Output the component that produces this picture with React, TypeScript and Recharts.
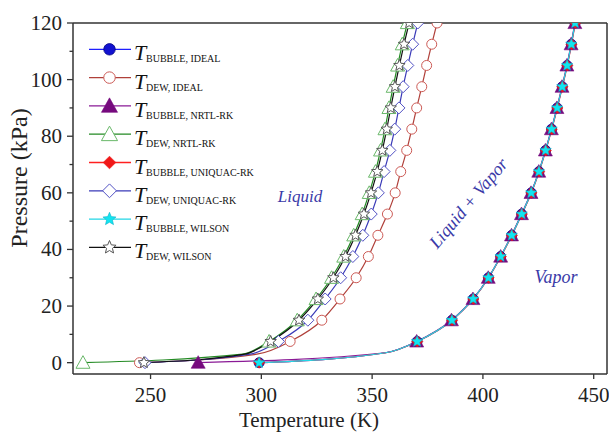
import { LineChart, Line, XAxis, YAxis, ReferenceLine } from "recharts";

// pressure levels (kPa) of the calculated points; index 1 is the knee of the curve (no marker)
const bubblePressure = [0, 3.5, 7.5, 15, 22.5, 30, 37.5, 45, 52.5, 60, 67.5, 75, 82.5, 90, 97.5, 105, 112.5, 120];
const dewPressure = [0, 3, 7.5, 15, 22.5, 30, 37.5, 45, 52.5, 60, 67.5, 75, 82.5, 90, 97.5, 105, 112.5, 120];

// temperatures (K)
const bubbleIdeal = [299, 356, 370.3, 386, 395.6, 402.5, 408, 413, 417.5, 421.8, 425.3, 428.3, 431, 433.5, 435.8, 438, 439.9, 441.6];
const bubbleNrtl = [271.5, 356, 370.1, 385.8, 395.5, 402.4, 408, 412.9, 417.4, 421.7, 425.2, 428.2, 430.9, 433.4, 435.7, 437.9, 439.8, 441.5];
const bubbleUniquac = [299, 356.2, 370.4, 386.1, 395.7, 402.6, 408.1, 413.1, 417.6, 421.9, 425.4, 428.4, 431.1, 433.6, 435.9, 438.1, 440, 441.7];
const bubbleWilson = [299, 356.1, 370.3, 386, 395.6, 402.5, 408, 413, 417.5, 421.8, 425.3, 428.3, 431, 433.5, 435.8, 438, 439.9, 441.6];
const dewIdeal = [245, 298, 313, 327.3, 335.5, 342.8, 348.3, 352.6, 356.9, 360.4, 362.9, 365.6, 367.9, 370.1, 372.4, 374.6, 376.9, 379.3];
const dewNrtl = [219.5, 291.5, 303.5, 316.2, 324.7, 331.7, 337.2, 341.7, 345.5, 348.7, 351.5, 353.8, 355.8, 357.6, 359.5, 361.5, 363.6, 365.9];
const dewUniquac = [247.5, 295, 307.7, 321, 328.8, 335.8, 341.3, 345.8, 349.6, 352.8, 355.4, 358, 360.2, 362.1, 364, 366.1, 368.3, 370.6];
const dewWilson = [247, 292.5, 304.2, 317, 325.5, 332.5, 338, 342.5, 346.3, 349.5, 352.3, 354.6, 356.6, 358.4, 360.3, 362.3, 364.4, 366.7];

const legendLabels = [
  "BUBBLE, IDEAL",
  "DEW, IDEAL",
  "BUBBLE, NRTL-RK",
  "DEW, NRTL-RK",
  "BUBBLE, UNIQUAC-RK",
  "DEW, UNIQUAC-RK",
  "BUBBLE, WILSON",
  "DEW, WILSON",
];

const xTicks = [250, 300, 350, 400, 450];
const yTicks = [0, 10, 20, 30, 40, 50, 60, 70, 80, 90, 100, 110, 120];

const FONT = "'Liberation Serif', 'Times New Roman', serif";
const AXIS = "#333";
const NOTE = "#3a3aa8";

type Kind = "circleFill" | "circleOpen" | "triFill" | "triOpen" | "diamondFill" | "diamondOpen" | "starFill" | "starOpen";

const toPoints = (temps: number[], pressure: number[]) =>
  temps.map((t, i) => ({ t, p: pressure[i] }));

// legend order
const series = [
  { key: "bi", temps: bubbleIdeal, pressure: bubblePressure, line: "#1f1fff", mark: "#1212d0", kind: "circleFill" as Kind },
  { key: "di", temps: dewIdeal, pressure: dewPressure, line: "#b0403a", mark: "#cc5a55", kind: "circleOpen" as Kind },
  { key: "bn", temps: bubbleNrtl, pressure: bubblePressure, line: "#8a1a96", mark: "#760a7e", kind: "triFill" as Kind },
  { key: "dn", temps: dewNrtl, pressure: dewPressure, line: "#238a23", mark: "#6ab86a", kind: "triOpen" as Kind },
  { key: "bu", temps: bubbleUniquac, pressure: bubblePressure, line: "#ff2020", mark: "#f01818", kind: "diamondFill" as Kind },
  { key: "du", temps: dewUniquac, pressure: dewPressure, line: "#3a3ab8", mark: "#5252c4", kind: "diamondOpen" as Kind },
  { key: "bw", temps: bubbleWilson, pressure: bubblePressure, line: "#22d6e6", mark: "#12e4f0", kind: "starFill" as Kind },
  { key: "dw", temps: dewWilson, pressure: dewPressure, line: "#111", mark: "#555", kind: "starOpen" as Kind },
];
const drawOrder = [1, 5, 3, 7, 0, 2, 4, 6];

const starPath = (cx: number, cy: number, R: number) => {
  let d = "";
  for (let i = 0; i < 10; i++) {
    const r = i % 2 ? R * 0.45 : R;
    const a = -Math.PI / 2 + (i * Math.PI) / 5;
    d += (i ? "L" : "M") + (cx + r * Math.cos(a)).toFixed(2) + "," + (cy + r * Math.sin(a)).toFixed(2);
  }
  return d + "Z";
};

const Marker = ({ kind, cx, cy, color, k = 1 }: { kind: Kind; cx: number; cy: number; color: string; k?: number }) => {
  const tri = (s: number) => `M${cx},${cy - s}L${cx + s},${cy + s * 0.8}L${cx - s},${cy + s * 0.8}Z`;
  const dia = (s: number) => `M${cx},${cy - s}L${cx + s},${cy}L${cx},${cy + s}L${cx - s},${cy}Z`;
  switch (kind) {
    case "circleFill":
      return <circle cx={cx} cy={cy} r={5 * k} fill={color} stroke="#000080" strokeWidth={0.8} />;
    case "circleOpen":
      return <circle cx={cx} cy={cy} r={5 * k} fill="#fff" stroke={color} strokeWidth={1} />;
    case "triFill":
      return <path d={tri(7 * k)} fill={color} stroke={color} strokeWidth={0.6} />;
    case "triOpen":
      return <path d={tri(7 * k)} fill="#fff" stroke={color} strokeWidth={1} />;
    case "diamondFill":
      return <path d={dia(5.5 * k)} fill={color} stroke={color} strokeWidth={0.6} />;
    case "diamondOpen":
      return <path d={dia(6 * k)} fill="#fff" stroke={color} strokeWidth={1} />;
    case "starFill":
      return <path d={starPath(cx, cy, 6 * k)} fill={color} stroke="#0aa8c0" strokeWidth={0.5} />;
    default:
      return <path d={starPath(cx, cy, 6 * k)} fill="#fff" stroke={color} strokeWidth={1} />;
  }
};

const makeDot = (s: (typeof series)[number]) => (props: any) => {
  const { cx, cy, index } = props;
  const key = `${s.key}-${index}`;
  if (index === 1 || cx == null || cy == null) return <g key={key} />;
  return (
    <g key={key}>
      <Marker kind={s.kind} cx={cx} cy={cy} color={s.mark} />
    </g>
  );
};

const XTick = ({ x, y, payload }: any) => (
  <g>
    <line x1={x} x2={x} y1={y} y2={y + 5} stroke={AXIS} strokeWidth={1.3} />
    <text x={x} y={y + 28} textAnchor="middle" fontSize={21} fontFamily={FONT} fill="#222">
      {payload.value}
    </text>
  </g>
);

const YTick = ({ x, y, payload }: any) => {
  const major = payload.value % 20 === 0;
  return (
    <g>
      <line x1={x - (major ? 6 : 3.5)} x2={x} y1={y} y2={y} stroke={AXIS} strokeWidth={1.3} />
      {major && (
        <text x={x - 11} y={y + 7} textAnchor="end" fontSize={21} fontFamily={FONT} fill="#222">
          {payload.value}
        </text>
      )}
    </g>
  );
};

const Overlay = () => (
  <svg width={609} height={434} style={{ position: "absolute", left: 0, top: 0, pointerEvents: "none" }}>
    {series.map((s, i) => {
      const y = 49.3 + i * 28.3;
      return (
        <g key={s.key}>
          <line x1={89} x2={131} y1={y} y2={y} stroke={s.line} strokeWidth={1.3} />
          <Marker kind={s.kind} cx={109.5} cy={y} color={s.mark} k={1.15} />
          <text x={134} y={y + 11} fontFamily={FONT} fontStyle="italic" fontSize={22} fill="#111">
            T
          </text>
          <text x={146} y={y + 13} fontFamily={FONT} fontSize={10} fill="#111">
            {legendLabels[i]}
          </text>
        </g>
      );
    })}
    <text x={300} y={202} textAnchor="middle" fontFamily={FONT} fontStyle="italic" fontSize={17} fill={NOTE}>
      Liquid
    </text>
    <text x={556} y={283} textAnchor="middle" fontFamily={FONT} fontStyle="italic" fontSize={18} fill={NOTE}>
      Vapor
    </text>
    <text
      x={473}
      y={207}
      textAnchor="middle"
      fontFamily={FONT}
      fontStyle="italic"
      fontSize={18}
      fill={NOTE}
      transform="rotate(-50 473 207)"
    >
      Liquid + Vapor
    </text>
    <text x={309} y={427} textAnchor="middle" fontFamily={FONT} fontSize={21} fill="#222">
      Temperature (K)
    </text>
    <text
      x={27}
      y={178}
      textAnchor="middle"
      fontFamily={FONT}
      fontSize={24}
      fill="#222"
      transform="rotate(-90 27 178)"
    >
      Pressure (kPa)
    </text>
  </svg>
);

export default function App() {
  return (
    <div style={{ position: "absolute", left: 0, top: 0, width: 609, height: 434, background: "#fff" }}>
      <LineChart width={609} height={434} margin={{ top: 23, right: 2, bottom: 0, left: 0 }}>
        <XAxis
          type="number"
          dataKey="t"
          domain={[215, 456]}
          ticks={xTicks}
          interval={0}
          allowDataOverflow
          height={60}
          tickSize={0}
          tickMargin={0}
          tickLine={false}
          tick={<XTick />}
          axisLine={{ stroke: AXIS, strokeWidth: 1.5 }}
        />
        <YAxis
          type="number"
          dataKey="p"
          domain={[-4, 120]}
          ticks={yTicks}
          interval={0}
          allowDataOverflow
          width={73}
          tickSize={0}
          tickMargin={0}
          tickLine={false}
          tick={<YTick />}
          axisLine={{ stroke: AXIS, strokeWidth: 1.5 }}
        />
        <ReferenceLine y={120} stroke={AXIS} strokeWidth={1.5} />
        <ReferenceLine x={456} stroke={AXIS} strokeWidth={1.5} />
        {drawOrder.map((i) => {
          const s = series[i];
          return (
            <Line
              key={s.key}
              data={toPoints(s.temps, s.pressure)}
              dataKey="p"
              type="monotone"
              stroke={s.line}
              strokeWidth={1.2}
              dot={makeDot(s)}
              activeDot={false}
              isAnimationActive={false}
            />
          );
        })}
      </LineChart>
      <Overlay />
    </div>
  );
}
